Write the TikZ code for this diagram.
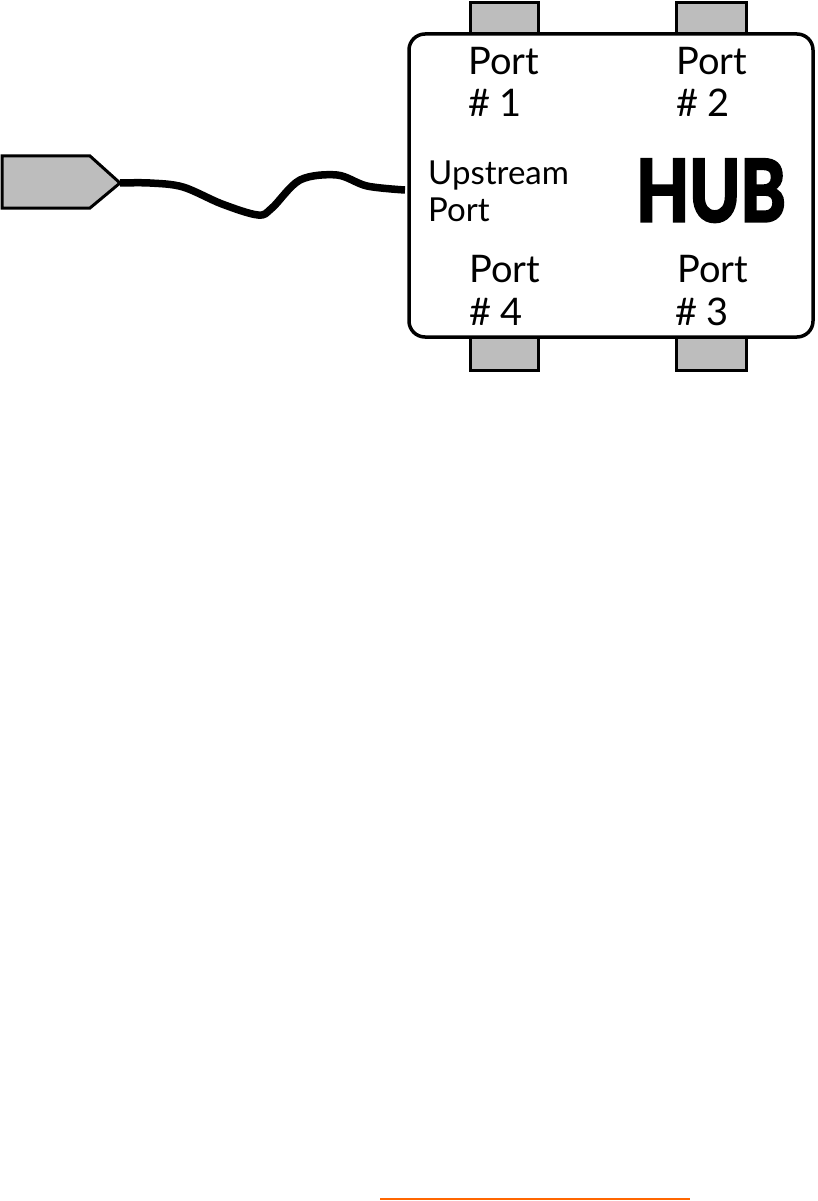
\documentclass[tikz,border=0pt]{standalone}
\usepackage{fontspec}
\setmainfont{Lato}
\newfontfamily\hubfont{Lato}[UprightFeatures={FakeBold=4},BoldFeatures={FakeBold=4}]
\begin{document}
\begin{tikzpicture}[x=1pt,y=-1pt,
  portbox/.style={draw=black,line width=3pt,fill=portgray},
  lbl/.style={anchor=base west,inner sep=0pt,font=\fontsize{38}{38}\selectfont},
  ulbl/.style={anchor=base west,inner sep=0pt,font=\fontsize{33}{33}\selectfont},
]
\definecolor{portgray}{HTML}{BDBDBD}
\definecolor{lineorange}{HTML}{FF6600}
\useasboundingbox (0,0) rectangle (817,1201);
% ports (behind hub)
\draw[portbox] (470,3) rectangle (538,34);
\draw[portbox] (676,3) rectangle (746,34);
\draw[portbox] (470,337) rectangle (538,370);
\draw[portbox] (676,337) rectangle (746,370);
% hub
\draw[line width=3.5pt,fill=white,rounded corners=16pt] (409,34) rectangle (813,337);
\coordinate (hubin) at (405,190);
% plug
\draw[portbox,line join=miter] (2,156) -- (90,156) -- (120,183) -- (90,208) -- (2,208) -- cycle;
\coordinate (plugtip) at (120,183);
% cable
\draw[line width=7.5pt] (plugtip) plot[smooth,tension=0.55] coordinates
 {(120,183) (150,183) (183,187) (222,204) (258,215) (272,208) (300,180) (337,175) (367,186) (405,190)} -- (hubin);
% labels
\node[lbl] (p1a) at (468,75) {Port};
\node[lbl] (p1b) at (468,117) {\# 1};
\node[lbl] (p2a) at (676,75) {Port};
\node[lbl] (p2b) at (676,117) {\# 2};
\node[lbl] (p4a) at (469,282) {Port};
\node[lbl] (p4b) at (469,325) {\# 4};
\node[lbl] (p3a) at (677,282) {Port};
\node[lbl] (p3b) at (675,325) {\# 3};
\node[ulbl] (upa) at (428,185) {Upstream};
\node[ulbl] (upb) at (428,222) {Port};
\node[anchor=base west,inner sep=0pt,xscale=0.81,transform shape,font=\fontsize{85}{85}\hubfont\bfseries] (hub) at (636,221) {HUB};
% orange rule
\coordinate (oa) at (380,1199);
\coordinate (ob) at (690,1199);
\draw[lineorange,line width=2pt] (oa) -- (ob);
\end{tikzpicture}
\end{document}
